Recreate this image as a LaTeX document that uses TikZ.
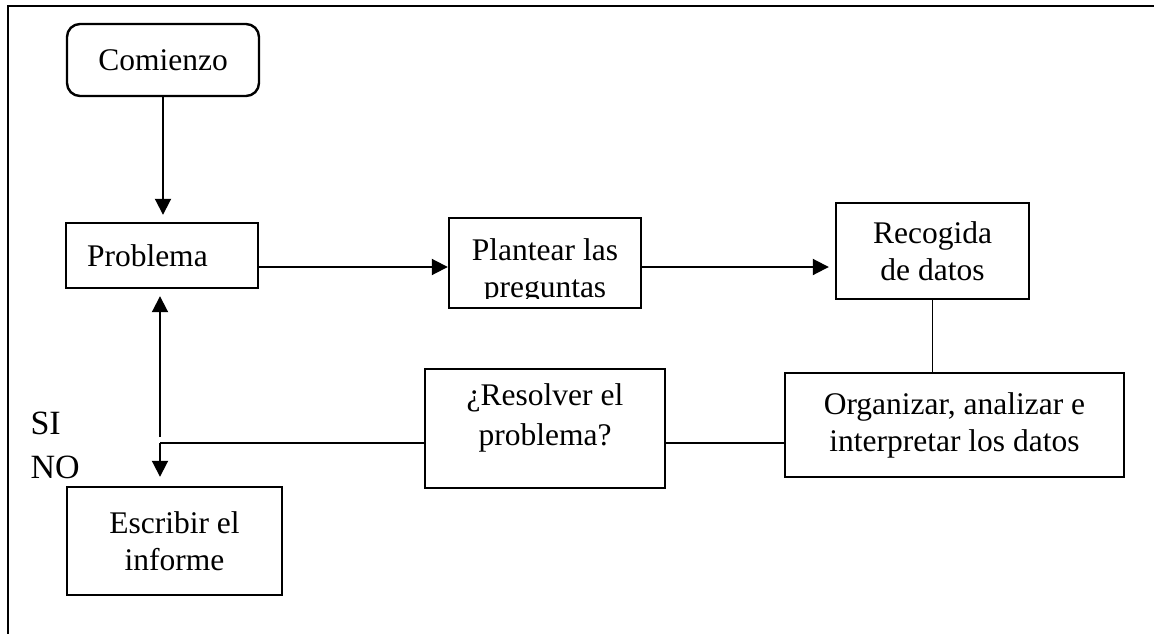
\documentclass[tikz,border=0pt]{standalone}
\usepackage{fontspec}
\setmainfont{Liberation Serif}
\usetikzlibrary{calc}
\usetikzlibrary{arrows.meta}

\begin{document}
\begin{tikzpicture}[x=1pt, y=-1pt]
	\tikzstyle{every node}=[font=\fontsize{31.5}{37}\selectfont]
	\tikzset{stage/.style = {rectangle, draw, line width = 2.4pt, align = center}}
	\tikzset{link/.style = {line width = 1.9pt}}
	\tikzset{flow/.style = {link, -{Triangle[length=16pt, width=16pt]}}}

\useasboundingbox (0,0) rectangle (1154,634);

%% Frame
\draw[line width = 2.8pt] (8,634) -- (8,6) -- (1154,6);

%% Start node
\draw (163,60) node[name = comienzo, stage, rounded corners = 13pt, minimum width = 192pt, minimum height = 72pt]{Comienzo};

%% Problem node
\draw (162,255.5) node[name = problema, stage, align = left, text width = 150pt, inner xsep = 21pt, minimum height = 65pt]{Problema};

%% Questions node (text cut off at the bottom)
\draw (545,263) node[name = plantear, stage, minimum width = 192pt, minimum height = 90pt]{};
\begin{scope}
	\clip (plantear.north west) rectangle ($(plantear.south east) + (0,-11)$);
	\node[name = plantear text, anchor = base] at (545,260) {\begin{tabular}[t]{@{}c@{}}Plantear las\\preguntas\end{tabular}};
\end{scope}

%% Data nodes
\draw (932.5,251) node[name = recogida, stage, minimum width = 193pt, minimum height = 96pt]{Recogida\\de datos};
\draw (954.5,425) node[name = organizar, stage, minimum width = 339pt, minimum height = 104pt]{Organizar, analizar e\\interpretar los datos};

%% Decision node
\draw (545,428.5) node[name = resolver, stage, minimum width = 240pt, minimum height = 119pt]{\begin{tabular}{@{}c@{}}¿Resolver el\\[3pt]problema?\\[20pt]\end{tabular}};

%% Report node
\draw (174.5,541) node[name = escribir, stage, minimum width = 215pt, minimum height = 108pt]{Escribir el\\informe};

%% Answers
\node[name = si, anchor = base west, font = \fontsize{34}{40}\selectfont] at (27,434) {SI};
\node[name = no, anchor = base west, font = \fontsize{34}{40}\selectfont] at (27,478) {NO};

%% Edges
\coordinate (row1) at (0,267);
\coordinate (row2) at (0,443);
\coordinate (branch) at (160,443);

\draw[flow, shorten > = 7pt] (comienzo.south) -- (comienzo.south |- problema.north);
\draw[flow] (problema.east |- row1) -- (plantear.west |- row1);
\draw[flow, shorten > = 6pt] (plantear.east |- row1) -- (recogida.west |- row1);
\draw[link] (recogida.south) -- (recogida.south |- organizar.north);
\draw[link] (organizar.west |- row2) -- (resolver.east |- row2);
\draw[link] (resolver.west |- row2) -- (branch);
\draw[flow, shorten > = 7pt] ($(branch) + (0,-6)$) -- (branch |- problema.south);
\draw[flow, shorten > = 9pt] (branch) -- (branch |- escribir.north);

\end{tikzpicture}
\end{document}
